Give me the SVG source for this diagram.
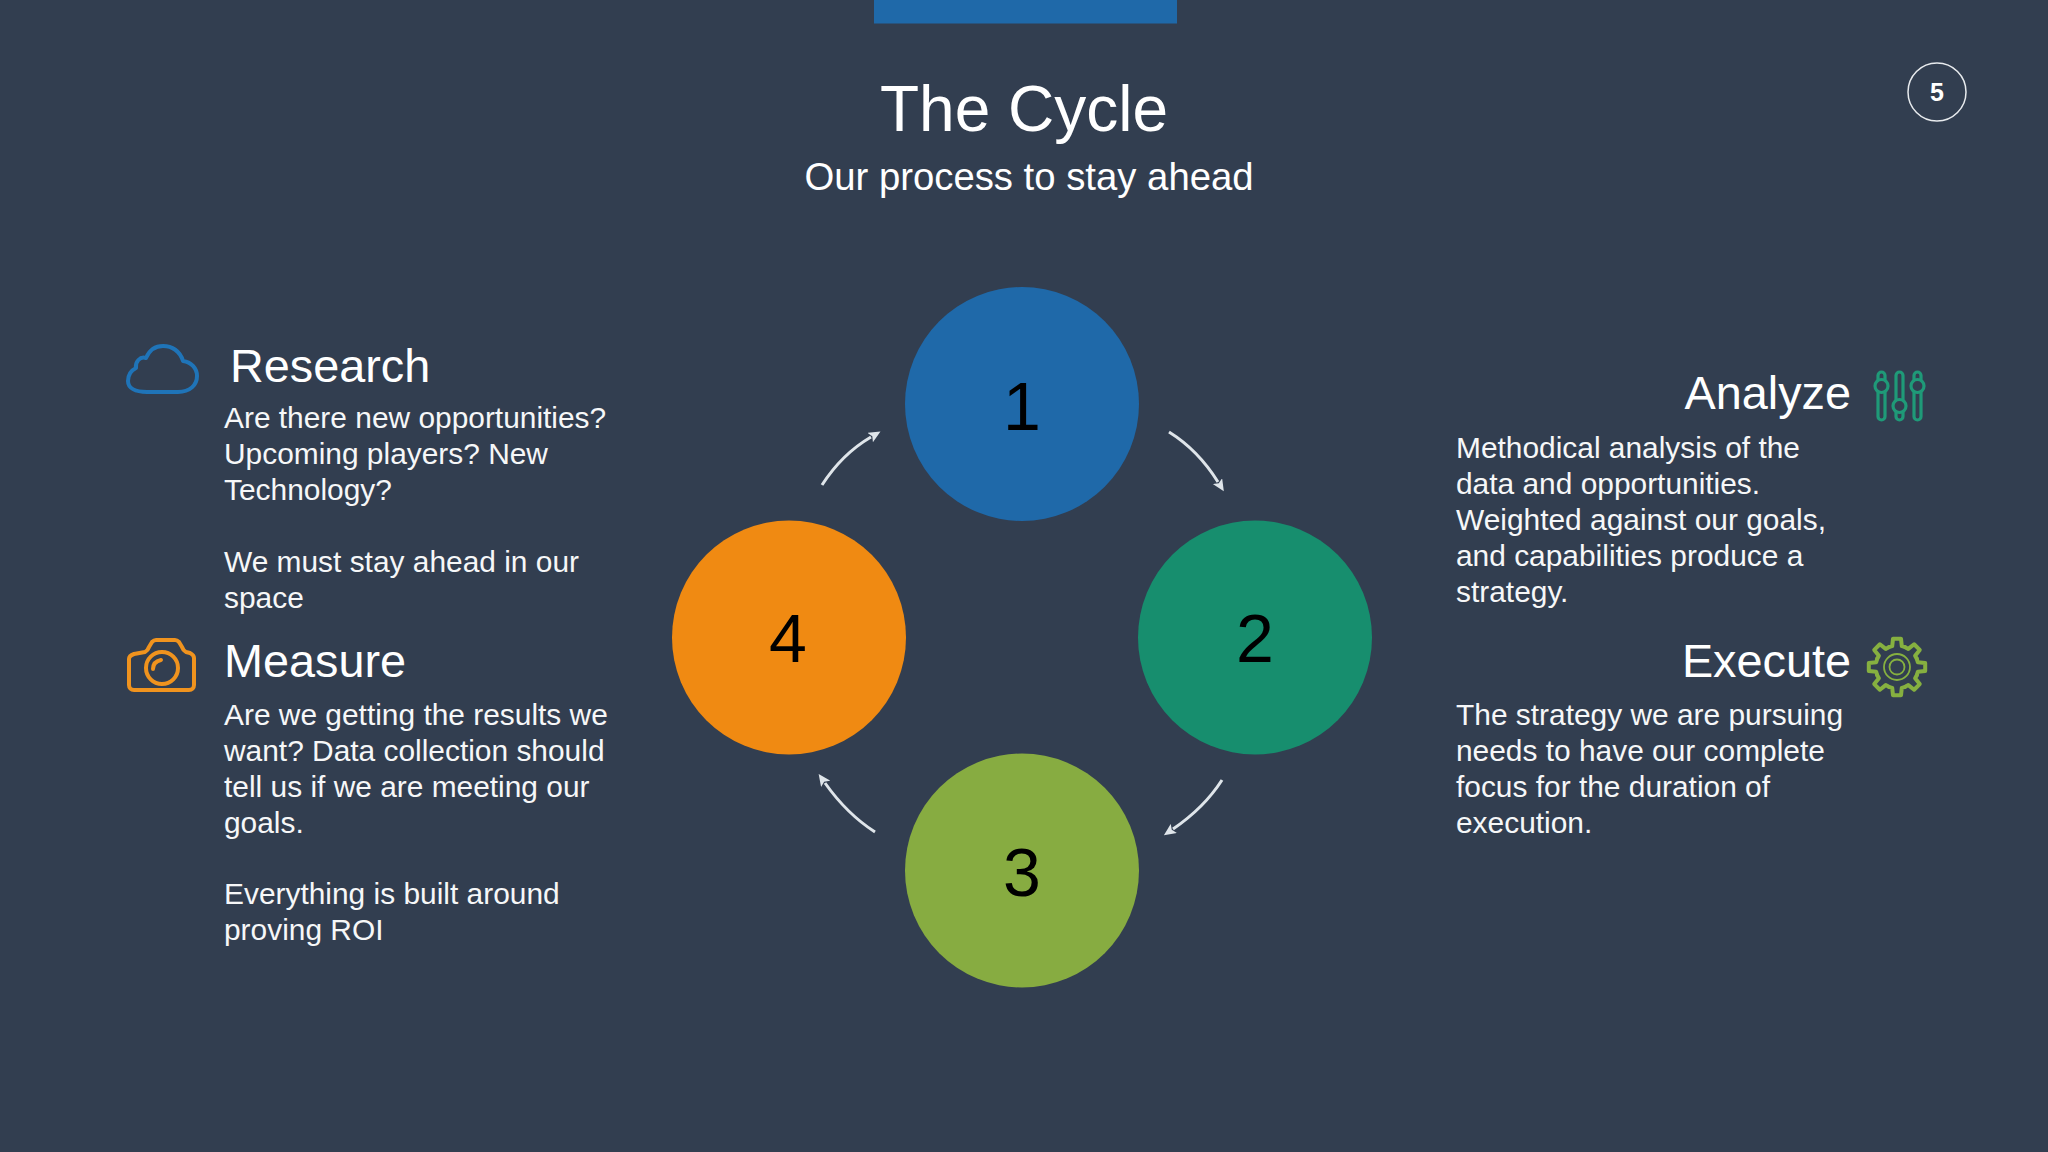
<svg xmlns="http://www.w3.org/2000/svg" xmlns:xlink="http://www.w3.org/1999/xlink" width="2048" height="1152" viewBox="0 0 2048 1152">
<style>
text{font-family:"Liberation Sans",Arial,sans-serif;fill:#fff}
.h{font-size:46.8px}
.b{font-size:29.9px;fill:#f6f7f8}
.n{font-size:68px;fill:#000;text-anchor:middle}
.c{fill:none;stroke:#dfe5ea;stroke-width:3}
.i{fill:none;stroke-width:4;stroke-linejoin:round;stroke-linecap:round}
</style>
<defs>
<marker id="a" markerUnits="userSpaceOnUse" markerWidth="14" markerHeight="12" refX="1" refY="5.500" orient="auto"><path d="M0 0L12 5.500L0 11L2.500 5.500z" fill="#dfe5ea"/></marker>
<path id="t" d="M-8.2-19.8L-4.8-20.8L-4-28.2L4-28.2L4.8-20.8L8.2-19.8"/>
</defs>
<rect width="2048" height="1152" fill="#323e50"/>
<rect id="topbar" x="874" width="303" height="23.5" fill="#1f69a9"/>
<g id="title"><text x="1024" y="131" font-size="64" text-anchor="middle">The Cycle</text>
<text x="1029" y="190" font-size="38.3" text-anchor="middle">Our process to stay ahead</text></g>
<g id="page"><circle cx="1937" cy="92" r="29" fill="none" stroke="#e8ebee" stroke-width="1.5"/><text x="1937" y="101" font-size="25" font-weight="700" text-anchor="middle">5</text></g>
<g id="connectors">
<path class="c" marker-end="url(#a)" d="M822 485Q842 454 871 437"/>
<path class="c" marker-end="url(#a)" d="M1169 432Q1198 450 1218 482"/>
<path class="c" marker-end="url(#a)" d="M1222 780Q1204 808 1173 829"/>
<path class="c" marker-end="url(#a)" d="M875 832Q847 814 825 783"/>
</g>
<g id="node1"><circle cx="1022" cy="404" r="117" fill="#1f69a9"/><text class="n" x="1022" y="430">1</text></g>
<g id="node2"><circle cx="1255" cy="637.500" r="117" fill="#178e6e"/><text class="n" x="1255" y="662">2</text></g>
<g id="node3"><circle cx="1022" cy="870.500" r="117" fill="#87ac41"/><text class="n" x="1022" y="896">3</text></g>
<g id="node4"><circle cx="789" cy="637.500" r="117" fill="#f08a12"/><text class="n" x="788" y="662">4</text></g>
<g id="research">
<path class="i" stroke="#1f74b8" d="M147 392H178C190 392 197 385 197 376C197 368 191 362 183 361C180 351 172 346 163 346C155 346 149 351 146 358C140 356 135 362 136 368C130 371 128 376 128 381C128 388 135 392 147 392z"/>
<text class="h" x="230" y="381.500">Research</text>
<text class="b" x="224" y="428">Are there new opportunities?</text>
<text class="b" x="224" y="464">Upcoming players? New</text>
<text class="b" x="224" y="500">Technology?</text>
<text class="b" x="224" y="572">We must stay ahead in our</text>
<text class="b" x="224" y="608">space</text>
</g>
<g id="measure">
<path class="i" stroke="#f0931e" d="M134 654L145 652C147 651 148 650 149 647L152 642C153 641 154 640 156 640H175C177 640 178 641 179 642L182 647C183 650 184 651 186 652L190 653C192 654 194 656 194 658V685C194 688 192 690 189 690H134C131 690 129 688 129 685V659C129 656 131 655 134 654z"/>
<circle class="i" stroke="#f0931e" cx="162" cy="668" r="16"/>
<path class="i" stroke="#f0931e" stroke-width="2.500" d="M153 669C153 664 156 661 161 660"/>
<text class="h" x="224" y="677">Measure</text>
<text class="b" x="224" y="725">Are we getting the results we</text>
<text class="b" x="224" y="761">want? Data collection should</text>
<text class="b" x="224" y="797">tell us if we are meeting our</text>
<text class="b" x="224" y="833">goals.</text>
<text class="b" x="224" y="904">Everything is built around</text>
<text class="b" x="224" y="940">proving ROI</text>
</g>
<g id="analyze">
<g class="i" stroke="#1f9a78" style="stroke-width:3.200">
<rect x="1878" y="372" width="7" height="48" rx="3.500"/><rect x="1896" y="372" width="7" height="48" rx="3.500"/><rect x="1914" y="372" width="7" height="48" rx="3.500"/>
<circle cx="1881.500" cy="386" r="6.500" fill="#323e50"/><circle cx="1899.500" cy="406" r="6.500" fill="#323e50"/><circle cx="1917.500" cy="386" r="6.500" fill="#323e50"/>
</g>
<text class="h" x="1851" y="408.500" text-anchor="end">Analyze</text>
<text class="b" x="1456" y="458">Methodical analysis of the</text>
<text class="b" x="1456" y="494">data and opportunities.</text>
<text class="b" x="1456" y="530">Weighted against our goals,</text>
<text class="b" x="1456" y="566">and capabilities produce a</text>
<text class="b" x="1456" y="602">strategy.</text>
</g>
<g id="execute">
<g transform="translate(1897 667)" class="i" stroke="#86b040">
<use xlink:href="#t" href="#t"/><use xlink:href="#t" href="#t" transform="rotate(45)"/><use xlink:href="#t" href="#t" transform="rotate(90)"/><use xlink:href="#t" href="#t" transform="rotate(135)"/><use xlink:href="#t" href="#t" transform="rotate(180)"/><use xlink:href="#t" href="#t" transform="rotate(225)"/><use xlink:href="#t" href="#t" transform="rotate(270)"/><use xlink:href="#t" href="#t" transform="rotate(315)"/>
<circle r="13" style="stroke-width:1.800"/><circle r="7.500" style="stroke-width:1.800"/>
</g>
<text class="h" x="1851" y="677" text-anchor="end">Execute</text>
<text class="b" x="1456" y="725">The strategy we are pursuing</text>
<text class="b" x="1456" y="761">needs to have our complete</text>
<text class="b" x="1456" y="797">focus for the duration of</text>
<text class="b" x="1456" y="833">execution.</text>
</g>
</svg>
